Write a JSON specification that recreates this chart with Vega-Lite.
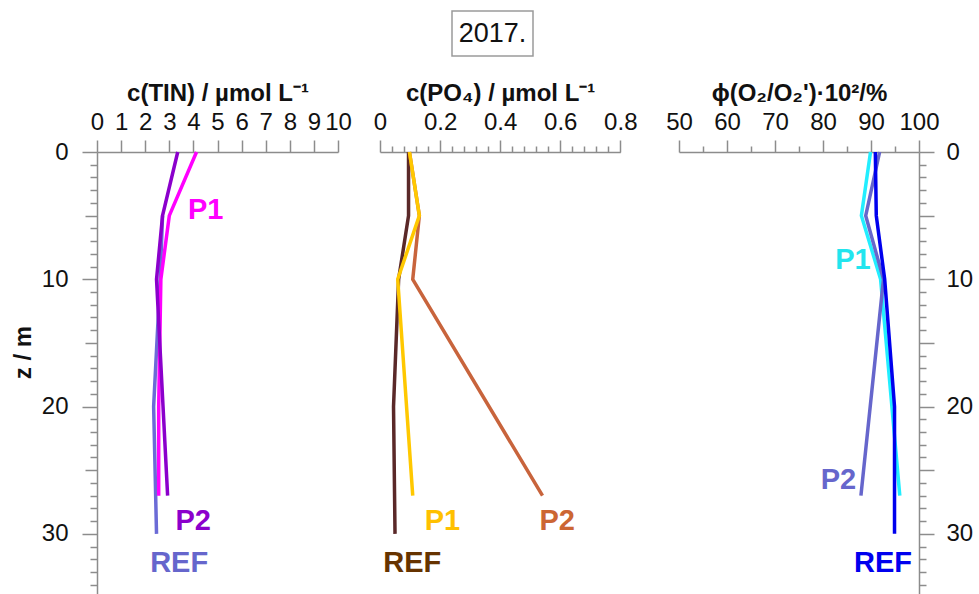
{
 "$schema": "https://vega.github.io/schema/vega-lite/v6.json",
 "padding": {"left": 11, "top": 10, "right": 5, "bottom": 0},
 "config": {
   "font": "Liberation Sans",
   "view": {"stroke": null},
   "axis": {"domainColor": "#8c8c8c", "tickColor": "#8c8c8c", "domainWidth": 1.5, "tickWidth": 1.5, "labelColor": "#111", "labelFontSize": 24, "labelFont": "Liberation Sans", "titleFont": "Liberation Sans", "titleFontSize": 24, "titleFontWeight": "bold", "titleColor": "#111", "grid": false, "labelFlush": false, "labelOverlap": false, "labelBound": false},
   "line": {"strokeWidth": 3.5},
   "text": {"font": "Liberation Sans", "fontWeight": "bold", "fontSize": 29}
 },
 "datasets": {
  "profiles": [
   {"p": "TIN", "s": "REF", "z": 5, "v": 2.72},
   {"p": "TIN", "s": "REF", "z": 10, "v": 2.62},
   {"p": "TIN", "s": "REF", "z": 20, "v": 2.35},
   {"p": "TIN", "s": "REF", "z": 30, "v": 2.47},
   {"p": "TIN", "s": "P1", "z": 0, "v": 4.13},
   {"p": "TIN", "s": "P1", "z": 5, "v": 3.0},
   {"p": "TIN", "s": "P1", "z": 10, "v": 2.65},
   {"p": "TIN", "s": "P1", "z": 20, "v": 2.56},
   {"p": "TIN", "s": "P1", "z": 27, "v": 2.56},
   {"p": "TIN", "s": "P2", "z": 0, "v": 3.35},
   {"p": "TIN", "s": "P2", "z": 5, "v": 2.72},
   {"p": "TIN", "s": "P2", "z": 10, "v": 2.47},
   {"p": "TIN", "s": "P2", "z": 20, "v": 2.74},
   {"p": "TIN", "s": "P2", "z": 27, "v": 2.93},
   {"p": "PO4", "s": "REF", "z": 0, "v": 0.095},
   {"p": "PO4", "s": "REF", "z": 5, "v": 0.095},
   {"p": "PO4", "s": "REF", "z": 10, "v": 0.062},
   {"p": "PO4", "s": "REF", "z": 20, "v": 0.045},
   {"p": "PO4", "s": "REF", "z": 30, "v": 0.05},
   {"p": "PO4", "s": "P2", "z": 0, "v": 0.098},
   {"p": "PO4", "s": "P2", "z": 5, "v": 0.131},
   {"p": "PO4", "s": "P2", "z": 10, "v": 0.109},
   {"p": "PO4", "s": "P2", "z": 27, "v": 0.541},
   {"p": "PO4", "s": "P1", "z": 0, "v": 0.098},
   {"p": "PO4", "s": "P1", "z": 5, "v": 0.131},
   {"p": "PO4", "s": "P1", "z": 10, "v": 0.059},
   {"p": "PO4", "s": "P1", "z": 27, "v": 0.109},
   {"p": "O2", "s": "P1", "z": 0, "v": 89.9},
   {"p": "O2", "s": "P1", "z": 5, "v": 88.0},
   {"p": "O2", "s": "P1", "z": 10, "v": 92.0},
   {"p": "O2", "s": "P1", "z": 27, "v": 96.0},
   {"p": "O2", "s": "P2", "z": 0, "v": 91.8},
   {"p": "O2", "s": "P2", "z": 5, "v": 88.9},
   {"p": "O2", "s": "P2", "z": 10, "v": 92.6},
   {"p": "O2", "s": "P2", "z": 27, "v": 87.9},
   {"p": "O2", "s": "REF", "z": 0, "v": 90.9},
   {"p": "O2", "s": "REF", "z": 5, "v": 91.1},
   {"p": "O2", "s": "REF", "z": 10, "v": 92.85},
   {"p": "O2", "s": "REF", "z": 20, "v": 94.9},
   {"p": "O2", "s": "REF", "z": 30, "v": 94.9}
  ],
  "labels": [
   {"p": "TIN", "s": "P1", "z": 4.53, "v": 4.51},
   {"p": "TIN", "s": "P2", "z": 29.0, "v": 3.99},
   {"p": "TIN", "s": "REF", "z": 32.3, "v": 3.41},
   {"p": "PO4", "s": "P1", "z": 29.0, "v": 0.208},
   {"p": "PO4", "s": "P2", "z": 29.0, "v": 0.59},
   {"p": "PO4", "s": "REF", "z": 32.3, "v": 0.1075},
   {"p": "O2", "s": "P1", "z": 8.5, "v": 86.25},
   {"p": "O2", "s": "P2", "z": 25.8, "v": 83.2},
   {"p": "O2", "s": "REF", "z": 32.3, "v": 92.5}
  ]
 },
 "vconcat": [
  {
   "hconcat": [
    {
     "width": 355, "height": 45,
     "data": {"values": [{"t": ""}]},
     "mark": {"type": "text"},
     "encoding": {"text": {"field": "t"}}
    },
    {
     "width": 81, "height": 45,
     "view": {"stroke": "#9a9a9a", "strokeWidth": 1.5},
     "data": {"values": [{"t": "2017."}]},
     "mark": {"type": "text", "fontSize": 27, "fontWeight": "normal", "color": "#111"},
     "encoding": {"text": {"field": "t"}}
    }
   ],
   "spacing": 0,
   "bounds": "flush"
  },
  {
   "hconcat": [
    {
     "hconcat": [
      {
       "width": 241, "height": 441.7,
       "encoding": {
        "x": {"field": "v", "type": "quantitative", "scale": {"domain": [0, 10], "nice": false, "zero": false},
          "axis": {"orient": "top", "title": "c(TIN) / µmol L⁻¹", "format": "d",
            "values": [0,0.5,1,1.5,2,2.5,3,3.5,4,4.5,5,5.5,6,6.5,7,7.5,8,8.5,9,9.5,10],
            "labelExpr": "datum.value % 1 === 0 ? datum.label : ''",
            "tickSize": {"condition": {"test": "datum.value % 1 === 0", "value": 12}, "value": 6},
            "labelPadding": 6, "titlePadding": 5}},
        "y": {"field": "z", "type": "quantitative", "scale": {"domain": [0, 34.7], "reverse": true, "nice": false, "zero": false},
          "axis": {"orient": "left", "title": "z / m", "format": "d",
            "values": [0,1,2,3,4,5,6,7,8,9,10,11,12,13,14,15,16,17,18,19,20,21,22,23,24,25,26,27,28,29,30,31,32,33,34],
            "labelExpr": "datum.value % 10 === 0 ? datum.label : ''",
            "tickSize": {"condition": [{"test": "datum.value % 10 === 0", "value": 15}, {"test": "datum.value % 5 === 0", "value": 12}], "value": 7},
            "labelPadding": 14, "titlePadding": 6, "titleY": 200}}
       },
       "layer": [
        {
         "data": {"name": "profiles"},
         "transform": [{"filter": "datum.p === 'TIN'"}],
         "mark": {"type": "line"},
         "encoding": {
          "color": {"field": "s", "type": "nominal", "scale": {"domain": ["REF", "P1", "P2"], "range": ["#6B6BD6", "#FF00FF", "#8B00CC"]}, "legend": null},
          "order": {"field": "z", "type": "quantitative"}
         }
        },
        {
         "data": {"name": "labels"},
         "transform": [{"filter": "datum.p === 'TIN'"}],
         "mark": {"type": "text", "baseline": "middle", "align": "center"},
         "encoding": {
          "text": {"field": "s"},
          "color": {"field": "s", "type": "nominal", "scale": {"domain": ["REF", "P1", "P2"], "range": ["#6666CC", "#FF00FF", "#8B00CC"]}, "legend": null}
         }
        }
       ],
       "resolve": {"scale": {"color": "independent"}}
      },
      {
       "width": 240.3, "height": 441.7,
       "encoding": {
        "x": {"field": "v", "type": "quantitative", "scale": {"domain": [0, 0.8], "nice": false, "zero": false},
          "axis": {"orient": "top", "title": "c(PO₄) / µmol L⁻¹", "format": ".1~f",
            "values": [0,0.04,0.08,0.12,0.16,0.2,0.24,0.28,0.32,0.36,0.4,0.44,0.48,0.52,0.56,0.6,0.64,0.68,0.72,0.76,0.8],
            "labelExpr": "abs(datum.value*5 - round(datum.value*5)) < 0.000001 ? datum.label : ''",
            "tickSize": {"condition": {"test": "abs(datum.value*5 - round(datum.value*5)) < 0.000001", "value": 12}, "value": 6},
            "labelPadding": 6, "titlePadding": 5}},
        "y": {"field": "z", "type": "quantitative", "scale": {"domain": [0, 34.7], "reverse": true, "nice": false, "zero": false}, "axis": null}
       },
       "layer": [
        {
         "data": {"name": "profiles"},
         "transform": [{"filter": "datum.p === 'PO4'"}],
         "mark": {"type": "line"},
         "encoding": {
          "color": {"field": "s", "type": "nominal", "scale": {"domain": ["REF", "P2", "P1"], "range": ["#5A2828", "#C8643C", "#FFC800"]}, "legend": null},
          "order": {"field": "z", "type": "quantitative"}
         }
        },
        {
         "data": {"name": "labels"},
         "transform": [{"filter": "datum.p === 'PO4'"}],
         "mark": {"type": "text", "baseline": "middle", "align": "center"},
         "encoding": {
          "text": {"field": "s"},
          "color": {"field": "s", "type": "nominal", "scale": {"domain": ["REF", "P2", "P1"], "range": ["#663300", "#CC6633", "#FFC000"]}, "legend": null}
         }
        }
       ],
       "resolve": {"scale": {"color": "independent"}}
      }
     ],
     "spacing": 42,
     "bounds": "flush"
    },
    {
     "width": 240, "height": 441.7,
     "encoding": {
      "x": {"field": "v", "type": "quantitative", "scale": {"domain": [50, 100], "nice": false, "zero": false},
        "axis": {"orient": "top", "title": "ϕ(O₂/O₂')·10²/%", "format": "d",
          "values": [50,55,60,65,70,75,80,85,90,95,100],
          "labelExpr": "datum.value % 10 === 0 ? datum.label : ''",
          "tickSize": {"condition": {"test": "datum.value % 10 === 0", "value": 12}, "value": 6},
          "labelPadding": 6, "titlePadding": 5}},
      "y": {"field": "z", "type": "quantitative", "scale": {"domain": [0, 34.7], "reverse": true, "nice": false, "zero": false},
        "axis": {"orient": "right", "title": null, "format": "d",
          "values": [0,1,2,3,4,5,6,7,8,9,10,11,12,13,14,15,16,17,18,19,20,21,22,23,24,25,26,27,28,29,30,31,32,33,34],
          "labelExpr": "datum.value % 10 === 0 ? datum.label : ''",
          "tickSize": {"condition": [{"test": "datum.value % 10 === 0", "value": 15}, {"test": "datum.value % 5 === 0", "value": 15}], "value": 7},
          "labelPadding": 12}}
     },
     "layer": [
      {
       "data": {"name": "profiles"},
       "transform": [{"filter": "datum.p === 'O2'"}],
       "mark": {"type": "line"},
       "encoding": {
        "color": {"field": "s", "type": "nominal", "scale": {"domain": ["P2", "P1", "REF"], "range": ["#6666CC", "#22EEFF", "#0000EE"]}, "legend": null},
        "order": {"field": "z", "type": "quantitative"}
       }
      },
      {
       "data": {"name": "labels"},
       "transform": [{"filter": "datum.p === 'O2'"}],
       "mark": {"type": "text", "baseline": "middle", "align": "center"},
       "encoding": {
        "text": {"field": "s"},
        "color": {"field": "s", "type": "nominal", "scale": {"domain": ["P2", "P1", "REF"], "range": ["#6666CC", "#22E5EE", "#0000EE"]}, "legend": null}
       }
      }
     ],
     "resolve": {"scale": {"color": "independent"}}
    }
   ],
   "spacing": 28,
   "bounds": "full"
  }
 ],
 "spacing": 24
}
